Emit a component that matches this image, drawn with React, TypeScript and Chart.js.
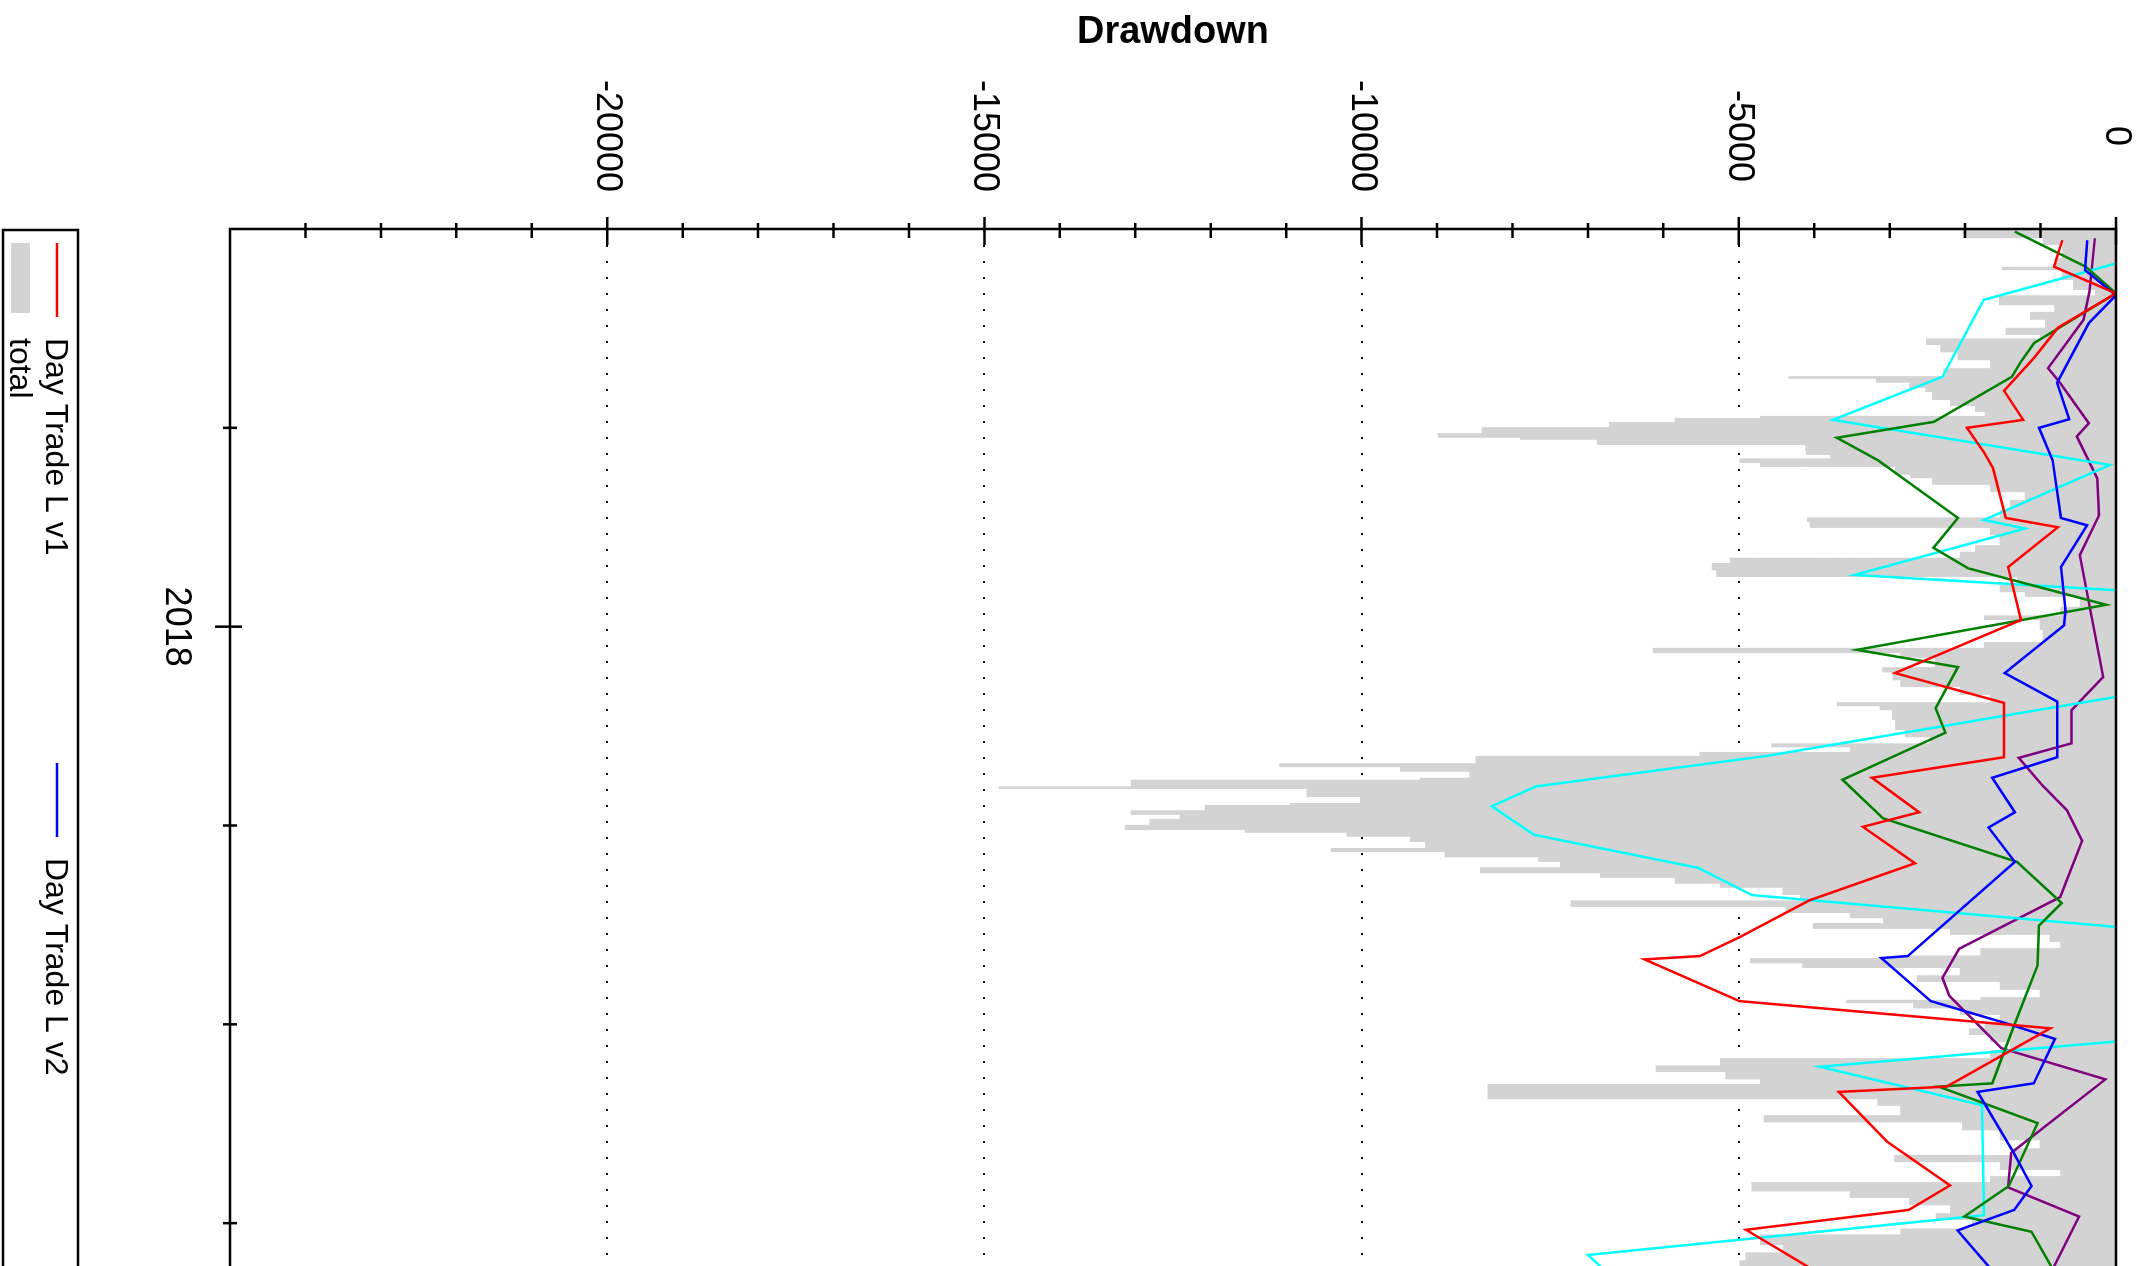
import React, { useEffect, useRef } from 'react';
import { Chart, registerables } from 'chart.js';

Chart.register(...registerables);

// The chart is laid out as an ordinary time/value chart and then turned a quarter
// turn clockwise, as in the reference picture (time runs down, values run right-to-left).
const SCREEN_W = 2143;
const SCREEN_H = 1266;
const CANVAS_W = 1500; // time-axis side of the unrotated chart (becomes the screen height)
const CANVAS_H = SCREEN_W; // value-axis side (becomes the screen width)

const FONT = '"Liberation Sans", Arial, Helvetica, sans-serif';

const chartTitle = 'Drawdown';

// time in months since 2017-07-01
const timeMin = 0;
const timeMax = 18;
const timeTicks = [3, 6, 9, 12, 15, 18];
const timeTickLabels = ['', '2018', '', '', '', ''];

const valueMin = -25000;
const valueMax = 0;
const valueTicks = [0, -5000, -10000, -15000, -20000];
const valueTickLabels = ['0', '-5000', '-10000', '-15000', '-20000'];
const valueMinorTicks = [
  -1000, -2000, -3000, -4000, -6000, -7000, -8000, -9000, -11000, -12000,
  -13000, -14000, -16000, -17000, -18000, -19000, -21000, -22000, -23000, -24000,
];

const seriesNames = ['Day Trade L v1', 'Day Trade L v2', 'Day Trade L v3', 'Day Trade S v1', 'Day Trade S v2'];
const seriesColors = ['#ff0000', '#0000ff', '#008000', '#00ffff', '#800080'];
const totalName = 'total';
const totalColor = '#d3d3d3';

// [month, drawdown]
const dayTradeLv1: [number, number][] = [
  [0.17, -710], [0.27, -740], [0.57, -820], [0.97, 0], [1.49, -770], [1.95, -1090],
  [2.44, -1485], [2.88, -1230], [3.0, -1975], [3.37, -1750], [3.61, -1630], [4.36, -1460],
  [4.5, -770], [5.1, -1430], [5.9, -1260], [6.7, -2930], [7.15, -1485], [7.97, -1485],
  [8.28, -3235], [8.8, -2610], [9.02, -3355], [9.57, -2665], [10.13, -4065], [10.68, -4980],
  [10.97, -5515], [11.02, -6250], [11.65, -4990], [12.06, -870], [12.94, -2245], [13.02, -3675],
  [13.77, -3035], [14.43, -2200], [14.8, -2745], [15.1, -4905], [15.63, -4125], [16.2, -3300],
];

const dayTradeLv2: [number, number][] = [
  [0.17, -380], [0.62, -410], [1.0, 0], [1.42, -360], [2.32, -780], [2.87, -620],
  [3.0, -1020], [3.49, -840], [4.36, -730], [4.47, -385], [5.1, -730], [5.75, -670],
  [5.98, -690], [6.7, -1475], [7.13, -780], [7.97, -780], [8.28, -1640], [8.8, -1340],
  [9.03, -1690], [9.55, -1340], [10.97, -2760], [11.0, -3110], [11.65, -2455], [11.98, -1470],
  [12.22, -810], [12.89, -1090], [13.02, -1835], [13.93, -1360], [14.44, -1120], [14.8, -1350],
  [15.11, -2100], [15.65, -1690], [16.2, -1300],
];

const dayTradeLv3: [number, number][] = [
  [0.04, -1340], [0.57, -400], [0.97, 0], [1.72, -1085], [2.0, -1260], [2.23, -1380],
  [2.91, -2415], [3.15, -3700], [3.49, -3155], [4.36, -2095], [4.81, -2420], [5.12, -1960],
  [5.67, -130], [6.35, -3435], [6.61, -2095], [7.23, -2390], [7.6, -2260], [8.31, -3625],
  [8.89, -3090], [9.55, -1310], [10.17, -720], [10.51, -1020], [11.11, -1040], [12.06, -1365],
  [12.89, -1640], [12.94, -2350], [13.49, -1040], [14.44, -1420], [14.9, -2010], [15.13, -1120],
  [15.65, -860], [16.2, -600],
];

const dayTradeSv1: [number, number][] = [
  [0.52, 0], [1.07, -1755], [2.23, -2300], [2.88, -3755], [3.56, -80], [4.39, -1750],
  [4.52, -1205], [5.22, -3465], [5.45, 0], [7.06, 0], [7.95, -4630], [8.41, -7690],
  [8.71, -8275], [9.14, -7715], [9.64, -5535], [10.05, -4825], [10.53, 0], [12.26, 0],
  [12.64, -3925], [13.22, -1775], [14.88, -1750], [15.48, -7000], [16.0, -6500],
];

const dayTradeSv2: [number, number][] = [
  [0.14, -280], [0.94, -350], [1.37, -430], [2.1, -900], [2.3, -755], [2.93, -360],
  [3.13, -520], [3.76, -250], [4.32, -225], [4.92, -480], [6.76, -170], [7.26, -590],
  [7.76, -590], [7.98, -1290], [8.39, -980], [8.77, -650], [9.23, -450], [10.08, -740],
  [10.86, -2080], [11.3, -2300], [11.57, -2210], [12.36, -1520], [12.83, -140], [13.94, -1390],
  [14.46, -1430], [14.9, -490], [15.65, -820], [16.2, -1000],
];

const totalDrawdown: [number, number][] = [
  [0.0, -2030], [0.14, -970], [0.24, -720], [0.44, -810], [0.57, -1510], [0.62, -720],
  [0.77, -570], [0.92, -280], [1.0, -1550], [1.15, -820], [1.25, -1140], [1.37, -940],
  [1.49, -1460], [1.6, -1010], [1.65, -2520], [1.75, -2330], [1.86, -2100], [1.98, -1670],
  [2.1, -2290], [2.22, -4340], [2.26, -3180], [2.32, -2740], [2.4, -2530], [2.46, -2440],
  [2.58, -2200], [2.67, -1870], [2.76, -1740], [2.82, -4720], [2.85, -5850], [2.91, -6720],
  [2.99, -8410], [3.08, -8990], [3.15, -7900], [3.18, -6880], [3.26, -4120], [3.34, -4110],
  [3.41, -3790], [3.46, -4990], [3.53, -4720], [3.59, -2930], [3.71, -2730], [3.76, -2440],
  [3.86, -1670], [3.97, -1210], [4.09, -1410], [4.24, -1540], [4.35, -4100], [4.42, -4060],
  [4.51, -1670], [4.62, -1540], [4.77, -1870], [4.87, -2070], [4.96, -5120], [5.04, -5360],
  [5.15, -5300], [5.25, -1310], [5.37, -1540], [5.48, -1210], [5.55, -480], [5.7, -740],
  [5.83, -1750], [5.9, -1010], [6.05, -970], [6.23, -1750], [6.32, -6140], [6.4, -2860],
  [6.47, -2400], [6.61, -3100], [6.69, -2960], [6.81, -2860], [6.91, -2070], [7.03, -1670],
  [7.14, -3700], [7.2, -3130], [7.26, -2970], [7.41, -2930], [7.56, -2800], [7.67, -2470],
  [7.76, -4570], [7.82, -3530], [7.89, -5520], [7.95, -8490], [8.06, -11090], [8.12, -9490],
  [8.19, -8570], [8.28, -9230], [8.31, -13060], [8.41, -14810], [8.45, -10730], [8.57, -10020],
  [8.66, -10950], [8.69, -12080], [8.77, -13060], [8.84, -12410], [8.9, -12810], [8.99, -13140],
  [9.07, -11550], [9.11, -10200], [9.17, -9360], [9.25, -9160], [9.34, -10410], [9.4, -8900],
  [9.48, -7660], [9.55, -7370], [9.63, -8430], [9.72, -6840], [9.79, -5850], [9.88, -5250],
  [9.94, -4420], [10.05, -4190], [10.13, -7230], [10.23, -4380], [10.32, -3530], [10.4, -3090],
  [10.47, -4020], [10.56, -2200], [10.65, -880], [10.76, -740], [10.85, -1800], [10.96, -2860],
  [11.0, -4850], [11.08, -4160], [11.15, -2070], [11.26, -2640], [11.36, -1540], [11.48, -1010],
  [11.59, -1800], [11.63, -3580], [11.68, -2690], [11.76, -2070], [11.86, -1540], [11.97, -1740],
  [12.06, -1950], [12.16, -1670], [12.27, -1410], [12.39, -1670], [12.51, -5250], [12.62, -6100],
  [12.72, -5180], [12.83, -4720], [12.9, -8330], [13.13, -3160], [13.23, -2860], [13.37, -4670],
  [13.48, -2040], [13.6, -1540], [13.75, -1010], [13.87, -1370], [13.97, -2940], [14.08, -1540],
  [14.2, -740], [14.29, -1670], [14.38, -4830], [14.52, -3530], [14.62, -2740], [14.73, -2200],
  [14.85, -2390], [14.95, -1910], [15.08, -2860], [15.17, -4720], [15.33, -4420], [15.44, -4910],
  [15.56, -4990], [15.65, -4190], [15.79, -3500], [15.94, -2600],
];

const lineSeries = [dayTradeLv1, dayTradeLv2, dayTradeLv3, dayTradeSv1, dayTradeSv2];

const toPoints = (arr: [number, number][]) => arr.map(([x, y]) => ({ x, y }));

// Frame around the plot and the ticks that cross the axes.
const framePlugin = {
  id: 'frameTicks',
  afterDatasetsDraw(chart: any) {
    const { ctx, chartArea: a, scales } = chart;
    const xs = scales.x;
    const ys = scales.y;
    ctx.save();
    ctx.strokeStyle = '#000';
    ctx.lineWidth = 2.5;
    ctx.strokeRect(a.left, a.top, a.right - a.left, a.bottom - a.top);
    ctx.beginPath();
    valueTicks.forEach((v) => {
      const p = ys.getPixelForValue(v);
      ctx.moveTo(a.left - 12, p);
      ctx.lineTo(a.left + 16, p);
    });
    valueMinorTicks.forEach((v) => {
      const p = ys.getPixelForValue(v);
      ctx.moveTo(a.left - 6, p);
      ctx.lineTo(a.left + 9, p);
    });
    timeTicks.forEach((t, i) => {
      const p = xs.getPixelForValue(t);
      const major = timeTickLabels[i] !== '';
      ctx.moveTo(p, a.bottom - (major ? 12 : 7));
      ctx.lineTo(p, a.bottom + (major ? 15 : 7));
    });
    ctx.stroke();
    ctx.restore();
  },
};

// Title (kept horizontal on screen) and boxed legend.
const textPlugin = {
  id: 'titleLegend',
  afterDraw(chart: any) {
    const { ctx, chartArea: a } = chart;
    const H = chart.height;
    ctx.save();
    // title: counter-rotate so it reads horizontally after the quarter turn
    ctx.translate(43, (a.top + a.bottom) / 2);
    ctx.rotate(-Math.PI / 2);
    ctx.font = `bold 38px ${FONT}`;
    ctx.fillStyle = '#000';
    ctx.textAlign = 'center';
    ctx.textBaseline = 'alphabetic';
    ctx.fillText(chartTitle, 0, 0);
    ctx.restore();

    ctx.save();
    ctx.strokeStyle = '#000';
    ctx.lineWidth = 2.5;
    ctx.strokeRect(a.left + 1, H - 78, a.right - a.left, 75);
    ctx.font = `32px ${FONT}`;
    ctx.textAlign = 'left';
    ctx.textBaseline = 'alphabetic';
    const ds = chart.data.datasets;
    for (let i = 0; i < seriesNames.length; i++) {
      const x0 = a.left + 14 + i * 520;
      ctx.strokeStyle = ds[i].borderColor;
      ctx.lineWidth = 2.5;
      ctx.beginPath();
      ctx.moveTo(x0, H - 57);
      ctx.lineTo(x0 + 74, H - 57);
      ctx.stroke();
      ctx.fillStyle = '#000';
      ctx.fillText(ds[i].label, x0 + 95, H - 46);
    }
    const tot = ds[seriesNames.length];
    ctx.fillStyle = tot.backgroundColor;
    ctx.fillRect(a.left + 14, H - 30, 70, 19);
    ctx.fillStyle = '#000';
    ctx.fillText(tot.label, a.left + 14 + 95, H - 10);
    ctx.restore();
  },
};

export default function App() {
  const ref = useRef<HTMLCanvasElement>(null);

  useEffect(() => {
    if (!ref.current) return;
    const datasets: any[] = lineSeries.map((s, i) => ({
      label: seriesNames[i],
      data: toPoints(s),
      borderColor: seriesColors[i],
      backgroundColor: seriesColors[i],
      borderWidth: 2.5,
      pointRadius: 0,
      tension: 0,
      fill: false,
      order: 0,
    }));
    datasets.push({
      label: totalName,
      data: toPoints(totalDrawdown),
      borderColor: totalColor,
      backgroundColor: totalColor,
      borderWidth: 0,
      pointRadius: 0,
      stepped: true,
      fill: 'origin',
      order: 1,
    });

    const chart = new Chart(ref.current, {
      type: 'line',
      data: { datasets },
      options: {
        responsive: false,
        maintainAspectRatio: false,
        devicePixelRatio: 1,
        animation: false,
        events: [],
        layout: { padding: { top: 27, bottom: 80, left: 0, right: CANVAS_W - 1422 } },
        plugins: {
          legend: { display: false },
          title: { display: false },
          tooltip: { enabled: false },
        },
        scales: {
          x: {
            type: 'linear',
            position: 'bottom',
            min: timeMin,
            max: timeMax,
            grid: { display: false, drawTicks: false },
            border: { display: false },
            afterFit: (scale: any) => {
              scale.height = 150;
              scale.paddingLeft = 0;
              scale.paddingRight = 0;
            },
            ticks: {
              stepSize: 3,
              autoSkip: false,
              maxRotation: 0,
              minRotation: 0,
              padding: 32,
              color: '#000',
              font: { family: FONT, size: 36 },
              callback: (value: any) => {
                const i = timeTicks.indexOf(Number(value));
                return i >= 0 ? timeTickLabels[i] : '';
              },
            },
          },
          y: {
            type: 'linear',
            position: 'left',
            min: valueMin,
            max: valueMax,
            grid: {
              drawTicks: false,
              lineWidth: 2,
              color: (c: any) =>
                c.tick && c.tick.value > valueMin && c.tick.value < valueMax ? '#000' : 'rgba(0,0,0,0)',
            },
            border: { display: false, dash: [2, 14] },
            afterFit: (scale: any) => {
              scale.width = 229;
              scale.paddingTop = 0;
              scale.paddingBottom = 0;
            },
            ticks: {
              stepSize: 5000,
              crossAlign: 'center',
              padding: 37,
              color: '#000',
              font: { family: FONT, size: 36 },
              callback: (value: any) => {
                const i = valueTicks.indexOf(Number(value));
                return i >= 0 ? valueTickLabels[i] : '';
              },
            },
          },
        },
      },
      plugins: [framePlugin, textPlugin],
    } as any);

    return () => chart.destroy();
  }, []);

  return (
    <div
      style={{
        position: 'fixed',
        left: 0,
        top: 0,
        width: SCREEN_W,
        height: SCREEN_H,
        overflow: 'hidden',
        background: '#fff',
      }}
    >
      <div
        style={{
          position: 'absolute',
          left: 0,
          top: 0,
          width: CANVAS_W,
          height: CANVAS_H,
          transformOrigin: '0 0',
          transform: `translateX(${CANVAS_H}px) rotate(90deg)`,
        }}
      >
        <canvas
          ref={ref}
          width={CANVAS_W}
          height={CANVAS_H}
          style={{ display: 'block', width: CANVAS_W, height: CANVAS_H }}
        />
      </div>
    </div>
  );
}
